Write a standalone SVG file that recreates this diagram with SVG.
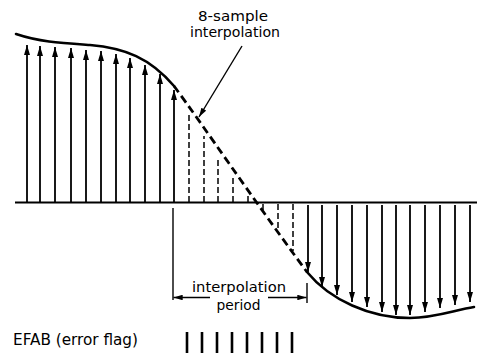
<svg xmlns="http://www.w3.org/2000/svg" width="481" height="354" viewBox="0 0 481 354">
<style>
.bg{fill:#fff}
.t{font-family:"DejaVu Sans","Liberation Sans",sans-serif;font-size:14.5px;fill:#000}
.ax{stroke:#000;stroke-width:2;fill:none}
.curve{stroke:#000;stroke-width:2.6;fill:none;stroke-linecap:round}
.dcurve{stroke:#000;stroke-width:2.8;fill:none;stroke-dasharray:8 4.5}
.arr{stroke:#000;stroke-width:1.8;fill:none;marker-end:url(#ah)}
.dv{stroke:#000;stroke-width:1.5;fill:none;stroke-dasharray:6 3}
.thin{stroke:#000;stroke-width:1.4;fill:none}
.la{stroke:#000;stroke-width:1.4;fill:none;marker-end:url(#ah2)}
.tick{stroke:#000;stroke-width:2.6}
</style>
<defs>
<marker id="ah" viewBox="0 0 10 6" refX="10" refY="3" markerWidth="10" markerHeight="7" markerUnits="userSpaceOnUse" orient="auto">
<path d="M0,0 L10,3 L0,6 z" fill="#000"/>
</marker>
<marker id="ah2" viewBox="0 0 10 6" refX="10" refY="3" markerWidth="10" markerHeight="5.5" markerUnits="userSpaceOnUse" orient="auto">
<path d="M0,0 L10,3 L0,6 z" fill="#000"/>
</marker>
</defs>
<rect class="bg" x="0" y="0" width="481" height="354"/>

<g id="axis">
<line class="ax" x1="15" y1="202.5" x2="477" y2="202.5"/>
</g>

<g id="signal-curve">
<path class="curve" d="M16,34 C40,42 60,43 90,45 C125,48 150,58 174,86"/>
<path class="dcurve" d="M174,86 C205,128 250,195 307,272"/>
<path class="curve" d="M307,272 C330,300 370,318 410,318 C435,318 455,310 474,307"/>
</g>

<g id="samples-positive">
<line class="arr" x1="27" y1="202" x2="27" y2="45"/>
<line class="arr" x1="40" y1="202" x2="40" y2="46"/>
<line class="arr" x1="55" y1="202" x2="55" y2="47"/>
<line class="arr" x1="71" y1="202" x2="71" y2="48"/>
<line class="arr" x1="86" y1="202" x2="86" y2="50"/>
<line class="arr" x1="101" y1="202" x2="101" y2="51"/>
<line class="arr" x1="116" y1="202" x2="116" y2="54"/>
<line class="arr" x1="130" y1="202" x2="130" y2="58"/>
<line class="arr" x1="145" y1="202" x2="145" y2="65"/>
<line class="arr" x1="160" y1="202" x2="160" y2="74"/>
<line class="arr" x1="174" y1="202" x2="174" y2="90"/>
</g>

<g id="samples-interpolated">
<line class="dv" x1="189" y1="202" x2="189" y2="113"/>
<line class="dv" x1="204" y1="202" x2="204" y2="136"/>
<line class="dv" x1="218" y1="202" x2="218" y2="157"/>
<line class="dv" x1="233" y1="202" x2="233" y2="178"/>
<line class="dv" x1="248" y1="202" x2="248" y2="196"/>
<line class="dv" x1="263" y1="204" x2="263" y2="212"/>
<line class="dv" x1="278" y1="204" x2="278" y2="231"/>
<line class="dv" x1="293" y1="204" x2="293" y2="251"/>
</g>

<g id="samples-negative">
<line class="arr" x1="308" y1="205" x2="308" y2="272"/>
<line class="arr" x1="322" y1="205" x2="322" y2="287"/>
<line class="arr" x1="337" y1="205" x2="337" y2="295"/>
<line class="arr" x1="352" y1="205" x2="352" y2="302"/>
<line class="arr" x1="367" y1="205" x2="367" y2="307"/>
<line class="arr" x1="382" y1="205" x2="382" y2="312"/>
<line class="arr" x1="396" y1="205" x2="396" y2="315"/>
<line class="arr" x1="410" y1="205" x2="410" y2="315"/>
<line class="arr" x1="425" y1="205" x2="425" y2="312"/>
<line class="arr" x1="440" y1="205" x2="440" y2="308"/>
<line class="arr" x1="455" y1="205" x2="455" y2="305"/>
<line class="arr" x1="470" y1="205" x2="470" y2="302"/>
</g>

<g id="label-8sample">
<text class="t" x="233" y="21" text-anchor="middle" textLength="70" lengthAdjust="spacingAndGlyphs">8-sample</text>
<text class="t" x="235" y="37" text-anchor="middle" textLength="90" lengthAdjust="spacingAndGlyphs">interpolation</text>
</g>

<g id="label-period">
<line class="thin" x1="173" y1="208" x2="173" y2="300"/>
<line class="thin" x1="307" y1="283" x2="307" y2="303"/>
<text class="t" x="239" y="291.5" text-anchor="middle" textLength="94" lengthAdjust="spacingAndGlyphs">interpolation</text>
<text class="t" x="238.5" y="310" text-anchor="middle" textLength="44" lengthAdjust="spacingAndGlyphs">period</text>
</g>

<g id="label-efab">
<text class="t" x="13" y="345" style="font-size:16px" textLength="125" lengthAdjust="spacingAndGlyphs">EFAB (error flag)</text>
</g>

<g id="efab-flags">
<line class="tick" x1="187" y1="332" x2="187" y2="353"/>
<line class="tick" x1="202" y1="332" x2="202" y2="353"/>
<line class="tick" x1="217" y1="332" x2="217" y2="353"/>
<line class="tick" x1="232" y1="332" x2="232" y2="353"/>
<line class="tick" x1="247" y1="332" x2="247" y2="353"/>
<line class="tick" x1="262" y1="332" x2="262" y2="353"/>
<line class="tick" x1="277" y1="332" x2="277" y2="353"/>
<line class="tick" x1="292" y1="332" x2="292" y2="353"/>
</g>

<g id="connectors">
<line class="la" x1="242" y1="46" x2="199" y2="117"/>
<line class="la" x1="210" y1="297.5" x2="173.5" y2="297.5"/>
<line class="la" x1="268" y1="297.5" x2="306.5" y2="297.5"/>
</g>
</svg>
